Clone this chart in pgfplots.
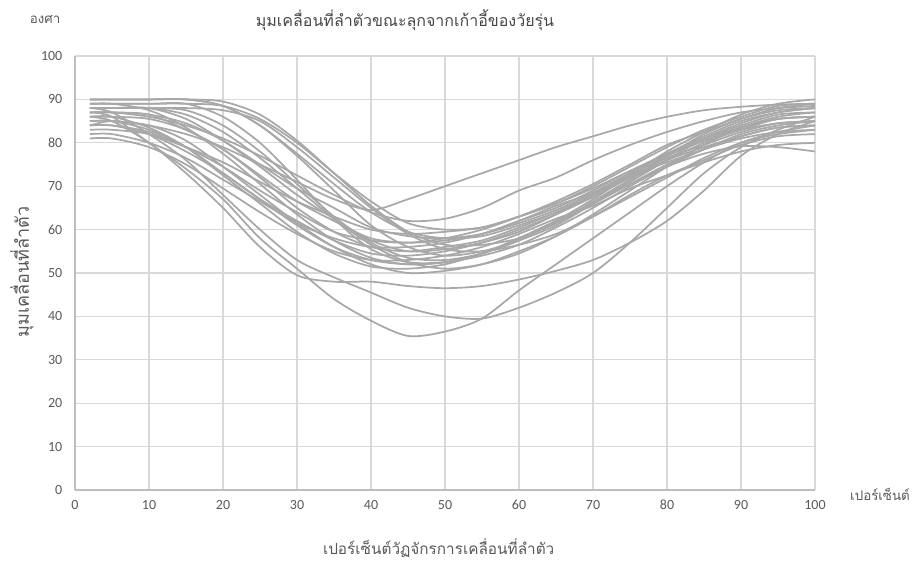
\documentclass[border=0pt]{standalone}
\usepackage{pgfplots}
\usepackage{pgfplotstable}
\pgfplotsset{compat=1.18}
\usepackage{fontspec}
\setmainfont{Carlito}
\newfontfamily\thaifont[Script=Thai]{Loma}
\definecolor{curvegray}{RGB}{168,168,168}
\definecolor{gridgray}{RGB}{217,217,217}
\definecolor{axisgray}{RGB}{190,190,190}
\definecolor{textgray}{RGB}{89,89,89}

\pgfplotstableread{
name 2 5 10 15 20 25 30 35 40 45 50 55 60 65 70 75 80 85 90 95 100
c1 87 86 80 74 67 58 51 44 39 35.5 36.5 39.5 46 52 58 64 70 75.5 80 82.5 84
c2 88 87 82 76 68 60 53 49 45.5 42 40 39.5 42 45.5 50 57 65 73 79 83 86
c3 86 85 80 73 65 56 49.5 48 48 47 46.5 47 48.5 50.5 53 57 62 69 77 82 85
c4 84 85 84 82 79 75 71 67 64.5 67 70 73 76 79 81.5 84 86 87.5 88.3 88.8 89
c5 85 85 83 79 73 67 61 56 53 52 52.5 54.5 58 62 66 70.5 74.5 77.5 79.2 79 78
c6 87 87 86 84 81 77 72.5 68 64 62 62.5 65 69 72 76 79.5 82.5 85 87 88 88.5
c7 89 89 87.5 83.5 77.5 70.5 63.5 57.5 53.5 52 52.5 54.5 58 61.5 66.5 71.5 76 80 83 85.5 86
c8 88 88 88 85.5 80.5 74.5 68 62.5 57.5 55 55.5 57 59.5 63.5 68 73 77.5 81.5 85 87 88
c9 90 90 90 90 88.5 84 77.5 70.5 64 59.5 58 58.5 61 64 68 72.5 77 81 84 86.5 87
c10 86 86 83.5 79 72.5 66 59.5 54.5 51.5 51 52 54.5 58 62 66 70.5 75 78.5 81.5 83.5 84
c11 84 84 82 78 73 67 62 57.5 54.5 54 55 57 60 63.5 67.5 72 76.5 79.5 82.5 84.5 85
c12 82 82 80 76.5 71.5 66.5 61.5 58 56 56 57 59 62 65.5 68.5 72.5 75.5 78.5 81 82.5 83
c13 89 89 89 89 88.5 85.5 80 73 66.5 61.5 60 60.5 63 66 70 74.5 79 83 86 88.5 89
c14 88 88 88 87.5 84 78 70.5 63 57 53.5 53 54.5 57.5 62 67 72.5 78 82.5 86.5 89 90
c15 87 87 86.5 83 78.5 72.5 66.5 62 58 57 57.5 59 62 65 69 73.5 77.5 81 83.5 85.5 86
c16 85 85 84 80.5 74.5 68 61.5 56 52 50 50.5 52 55 58.5 63 68 72.5 76 79.5 81.5 82
c17 90 90 90 90 89.5 86.5 80.5 73 65.5 59.5 56.5 56.5 58 61.5 66 71 76 81 84.5 87 88
c18 83 83 82 79 75.5 71 66.5 63 60 59 59.5 60.5 63 66 69.5 73.5 77 80.5 83 84.5 85
c19 88 88 88 86.5 82.5 76.5 69.5 62.5 56.5 52.5 51 52 54.5 58.5 63.5 69 74.5 79.5 83.5 86 87
c20 86 86 85.5 83 78.5 72 65 59.5 56 55 56 57.5 60.5 64 68 72 76 79 81.5 83.5 84
c21 81 81 79 75 69.5 64 59 55 53 53 54 56 59 62.5 65.5 69.5 72.5 75.5 78 79.5 80
c22 90 90 90 90 88.5 84 77 69 61 56 54 55 57.5 61 66 71.5 77 82 85.5 88 89
c23 87 87 86.5 84.5 80.5 75 69.5 65 60.5 58.5 58 59 61.5 64.5 68.5 73 77 80.5 83.5 85.5 86
c24 89 89 89 89 86 80 71.5 62.5 55.5 52.5 52.5 54 56.5 60.5 65 70 74.5 78.5 82 84 85
c25 84 84 82.5 79 74.5 69 64 59.5 57.5 57 58 60 63 66.5 70.5 75 79.5 82.5 85.5 87.5 88
c26 88 88 88 88 87.5 85 79 72 65 59 55.5 55 56.5 59 63 67.5 72 76.5 80 82 83
}\rawdata
\pgfplotstabletranspose[colnames from=name,input colnames to=x]\curvedata\rawdata

\begin{document}
\begin{tikzpicture}[x=1pt,y=1pt]
\useasboundingbox (0,0) rectangle (685.5,421.5);
\begin{axis}[
  at={(56.25pt,54pt)}, anchor=south west,
  scale only axis, width=555pt, height=325.5pt,
  xmin=0, xmax=100, ymin=0, ymax=100,
  xtick={0,10,...,100}, ytick={0,10,...,100},
  grid=major,
  major grid style={gridgray, line width=0.9pt},
  axis lines*=left,
  axis line style={axisgray, line width=0.9pt},
  tick style={draw=none},
  ticklabel style={font=\fontsize{10.5}{12}\selectfont, text=textgray},
  /pgf/number format/assume math mode=true,
  xticklabel style={yshift=-4pt},
  yticklabel style={xshift=-6pt},
  clip=false,
]
\pgfplotsinvokeforeach{1,...,26}{
  \addplot[curvegray, line width=1.3pt, smooth, no markers] table[x=x, y=c#1] {\curvedata};
}
\end{axis}
\node[text=textgray, font=\thaifont\fontsize{10}{12}\selectfont] at (33.75,406.5) {องศา};
\node[text=textgray!80!black, font=\thaifont\fontsize{12}{14}\selectfont] at (303.75,406.5) {มุมเคลื่อนที่ลำตัวขณะลุกจากเก้าอี้ของวัยรุ่น};
\node[text=textgray, font=\thaifont\fontsize{10}{12}\selectfont] at (660,51) {เปอร์เซ็นต์};
\node[text=textgray, anchor=base, inner sep=0pt, font=\thaifont\fontsize{11.5}{13}\selectfont] at (329,6) {เปอร์เซ็นต์วัฏจักรการเคลื่อนที่ลำตัว};
\node[text=textgray, rotate=90, font=\thaifont\fontsize{13.5}{15}\selectfont] at (16.5,217.5) {มุมเคลื่อนที่ลำตัว};
\end{tikzpicture}
\end{document}
